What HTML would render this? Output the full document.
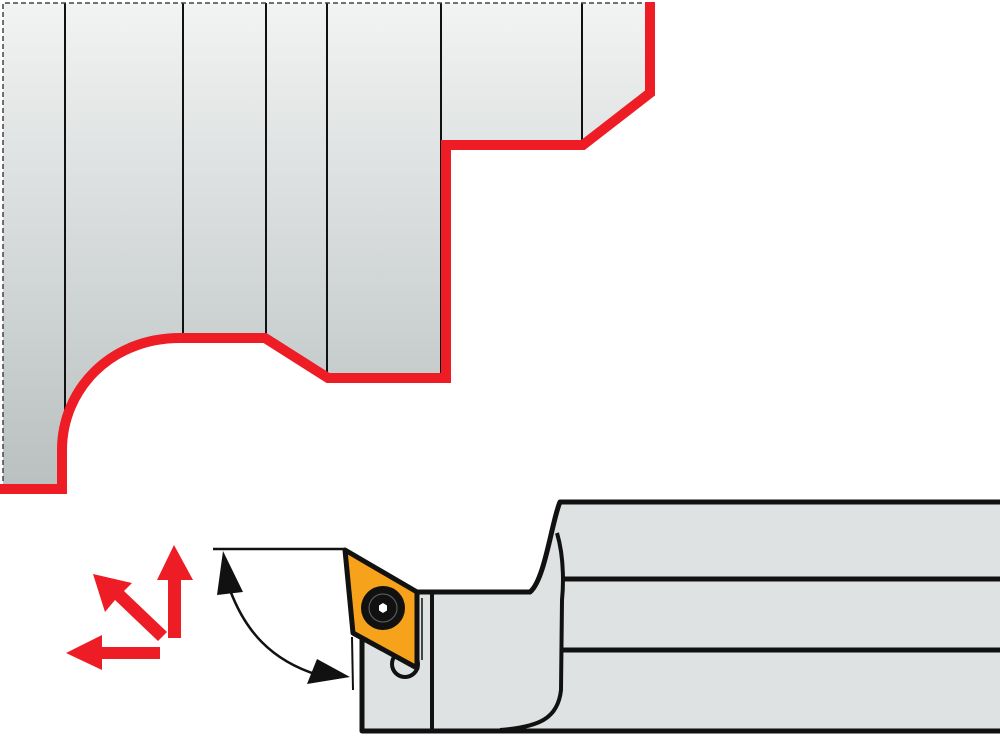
<!DOCTYPE html>
<html><head><meta charset="utf-8"><style>html,body{margin:0;padding:0;background:#fff}svg{display:block}</style></head>
<body>
<svg width="1000" height="739" viewBox="0 0 1000 739" xmlns="http://www.w3.org/2000/svg">
<defs>
<linearGradient id="g" x1="0" y1="0" x2="0" y2="1">
<stop offset="0" stop-color="#f2f3f3"/><stop offset="1" stop-color="#b9c0c0"/>
</linearGradient>
</defs>
<path d="M3,3 L650,3 L650,93 L583,145 L446,145 L446,378 L328,378 L265,338 L180,338 C110,338 62,390 62,450 L62,489 L3,489 Z" fill="url(#g)"/>
<g stroke="#111" stroke-width="2">
<line x1="65" y1="3" x2="65" y2="420"/>
<line x1="183" y1="3" x2="183" y2="338"/>
<line x1="266" y1="3" x2="266" y2="338"/>
<line x1="327" y1="3" x2="327" y2="376"/>
<line x1="441" y1="3" x2="441" y2="376"/>
<line x1="582" y1="3" x2="582" y2="145"/>
</g>
<path d="M650,3 L3,3 L3,489" fill="none" stroke="#444" stroke-width="1.5" stroke-dasharray="5,3"/>
<path d="M0,489 L62,489 L62,450 C62,390 110,338 180,338 L265,338 L328,378 L446,378 L446,145 L583,145 L650,93 L650,2" fill="none" stroke="#ee1c24" stroke-width="10"/>

<path d="M362,640 L362,731 L1010,731 L1010,502 L560,502 C552,520 545,580 530,592 L417,592 L417,640 Z" fill="#dfe2e2" stroke="#111" stroke-width="5" stroke-linejoin="round"/>
<path d="M557,533 C565,560 563,590 562,600 L561,690 C558,718 540,727 500,730" fill="none" stroke="#111" stroke-width="4"/>
<line x1="562" y1="579" x2="1000" y2="579" stroke="#111" stroke-width="5"/>
<line x1="562" y1="650" x2="1000" y2="650" stroke="#111" stroke-width="5"/>
<line x1="432" y1="592" x2="432" y2="731" stroke="#111" stroke-width="4"/>
<line x1="422" y1="598" x2="422" y2="660" stroke="#111" stroke-width="1.5"/>
<circle cx="405" cy="664" r="13" fill="#dfe2e2" stroke="#111" stroke-width="4"/>
<path d="M345,550 L417,592 L417,668 L353,633 Z" fill="#f7a21b" stroke="#111" stroke-width="5" stroke-linejoin="round"/>
<circle cx="383" cy="608" r="22" fill="#111"/>
<circle cx="383" cy="608" r="14" fill="none" stroke="#666" stroke-width="1"/>
<polygon points="383,603 387,605.5 387,610.5 383,613 379,610.5 379,605.5" fill="#fff"/>

<line x1="213" y1="549" x2="345" y2="549" stroke="#111" stroke-width="2.5"/>
<line x1="352" y1="637" x2="353" y2="690" stroke="#111" stroke-width="2"/>
<path d="M230,590 C245,630 270,660 318,675" fill="none" stroke="#111" stroke-width="2.5"/>
<polygon points="223,551 217,595 243,592" fill="#111"/>
<polygon points="350,677 307,684 317,659" fill="#111"/>

<g fill="#ee1c24">
<polygon points="174,545 157,580 168,580 168,638 181,638 181,580 193,580"/>
<polygon points="66,653 102,635 102,647 160,647 160,659 102,659 102,670"/>
<polygon points="93,574 132,583 124,591 167,632 158,641 115,600 105,612"/>
</g>
</svg>
</body></html>
